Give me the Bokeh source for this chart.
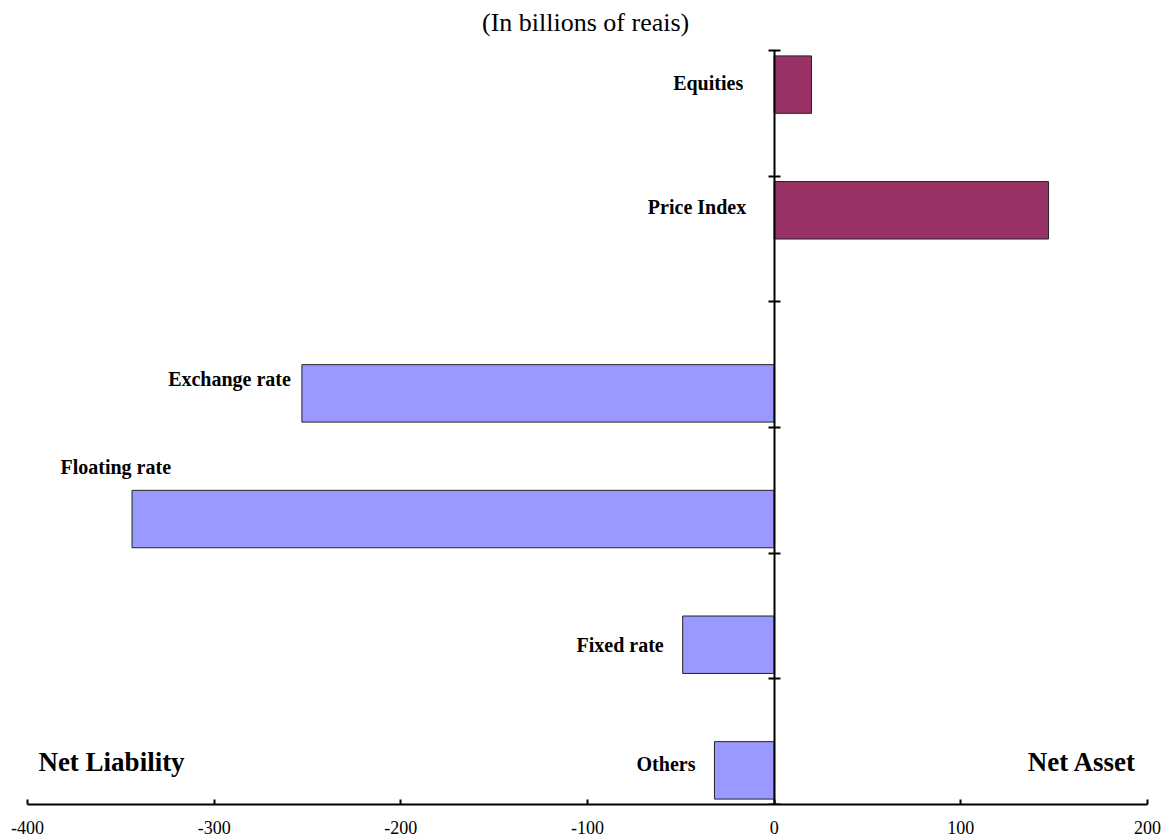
from bokeh.plotting import figure
from bokeh.models import ColumnDataSource, Range1d, LinearAxis, FixedTicker, Label
from bokeh.core.properties import value
from bokeh.embed import file_html
from bokeh.resources import INLINE

# ---- data ----
categories = ["Equities", "Price Index", "Exchange rate", "Floating rate", "Fixed rate", "Others"]
net_asset = [20, 147, 0, 0, 0, 0]
net_liability = [0, 0, -253, -344, -49, -32]
x_ticks = [-400, -300, -200, -100, 0, 100, 200]
title_text = "(In billions of reais)"
side_left = "Net Liability"
side_right = "Net Asset"

# ---- label nudges in pixels (style) ----
label_dx = [-31, -28, -11, 39, -19, -19]
label_dy = [-2, -3, -14, -52, 0, -6]

ASSET_COLOR = "#993366"
LIAB_COLOR = "#9999FF"
FONT = "Liberation Serif"

n = len(categories)
half = 0.2285
bar_h = 0.457
centers = [n - i - 0.5 for i in range(n)]
top_room = n * 804 / 754  # frame extends above the plotted categories for the heading

asset_src = ColumnDataSource(dict(
    y=[c + half for c, v in zip(centers, net_asset) if v != 0],
    right=[v for v in net_asset if v != 0],
))
liab_src = ColumnDataSource(dict(
    y=[c - half for c, v in zip(centers, net_liability) if v != 0],
    right=[v for v in net_liability if v != 0],
))

lab_x, lab_y = [], []
for c, a, l in zip(centers, net_asset, net_liability):
    lab_x.append(min(a + l, 0))
    lab_y.append(c + half if a != 0 else c - half)
label_src = ColumnDataSource(dict(x=lab_x, y=lab_y, text=categories, dx=label_dx, dy=label_dy))

p = figure(width=1166, height=840, output_backend="svg", toolbar_location=None,
           x_range=Range1d(-400, 200), y_range=Range1d(0, top_room),
           min_border_left=27, min_border_right=19, min_border_top=0, min_border_bottom=36,
           x_axis_location="below", y_axis_location=None)

p.outline_line_color = None
p.xgrid.visible = False
p.ygrid.visible = False
p.background_fill_color = "white"
p.border_fill_color = "white"

p.hbar(y="y", left=0, right="right", height=bar_h, source=asset_src,
       fill_color=ASSET_COLOR, line_color="#222222", line_width=1)
p.hbar(y="y", left=0, right="right", height=bar_h, source=liab_src,
       fill_color=LIAB_COLOR, line_color="#222222", line_width=1)

p.text(x="x", y="y", text="text", source=label_src, x_offset="dx", y_offset="dy",
       text_align="right", text_baseline="middle",
       text_font=value(FONT), text_font_style="bold", text_font_size="20px",
       text_color="black")

# x axis
xa = p.xaxis[0]
xa.ticker = FixedTicker(ticks=x_ticks)
xa.major_label_overrides = {t: str(t) for t in x_ticks}
xa.minor_tick_line_color = None
xa.major_tick_in = 5
xa.major_tick_out = 0
xa.axis_line_width = 2
xa.axis_line_color = "black"
xa.major_tick_line_width = 2
xa.major_tick_line_color = "black"
xa.major_label_text_font = FONT
xa.major_label_text_font_size = "18px"
xa.major_label_text_color = "black"
xa.major_label_standoff = 16

# y axis at x = 0 (ticks only, no labels)
y_tick_vals = list(range(n + 1))
ya = LinearAxis(ticker=FixedTicker(ticks=y_tick_vals), fixed_location=0, bounds=(0, n))
ya.major_label_overrides = {t: "" for t in y_tick_vals}
ya.minor_tick_line_color = None
ya.major_tick_in = 6
ya.major_tick_out = 6
ya.axis_line_width = 2
ya.axis_line_color = "black"
ya.major_tick_line_width = 2
ya.major_tick_line_color = "black"
ya.major_label_standoff = 0
p.add_layout(ya, "left")

p.add_layout(Label(x=-101, y=n + 0.223, text=title_text, text_align="center",
                   text_baseline="middle", text_font=FONT, text_font_size="26px",
                   text_color="black"))
p.add_layout(Label(x=-355, y=0.337, text=side_left, text_align="center",
                   text_baseline="middle", text_font=FONT, text_font_size="27px",
                   text_font_style="bold", text_color="black"))
p.add_layout(Label(x=165, y=0.337, text=side_right, text_align="center",
                   text_baseline="middle", text_font=FONT, text_font_size="27px",
                   text_font_style="bold", text_color="black"))

open("out.html", "w").write(file_html(p, INLINE))
